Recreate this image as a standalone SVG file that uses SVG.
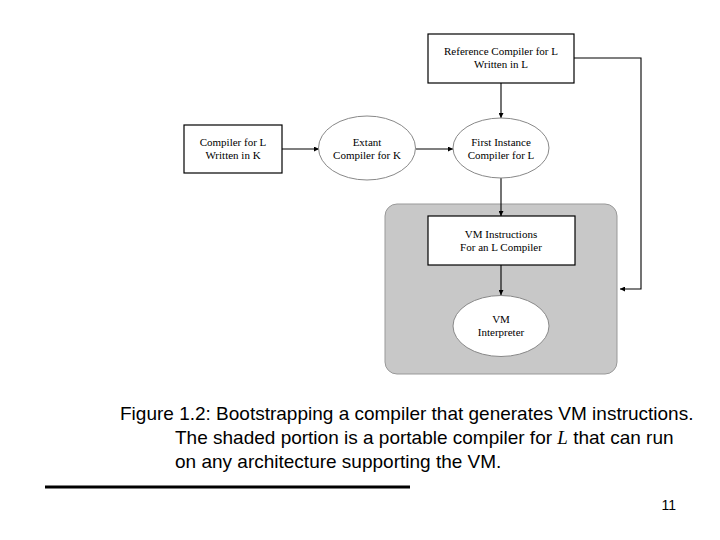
<svg xmlns="http://www.w3.org/2000/svg" width="720" height="540" viewBox="0 0 720 540">
<defs>
<marker id="ah" viewBox="0 0 10 10" refX="10" refY="5" markerWidth="7" markerHeight="5" orient="auto" markerUnits="userSpaceOnUse"><path d="M0,0 L10,5 L0,10 z" fill="#000"/></marker>
<style>
.n{font-family:"Liberation Serif","Times New Roman",serif;font-size:11px;fill:#000;text-anchor:middle}
.box{fill:#fff;stroke:#000;stroke-width:1.2}
.ell{fill:#fff;stroke:#888;stroke-width:1}
.c{fill:none;stroke:#000;stroke-width:1.1}
.cap{font-family:"Liberation Sans",Arial,sans-serif;font-size:19px;fill:#000}
</style>
</defs>
<rect width="720" height="540" fill="#fff"/>
<g id="shaded"><rect x="385" y="204" width="232" height="170" rx="12" fill="#c8c8c8" stroke="#999" stroke-width="1"/></g>
<g id="connectors">
<line class="c" x1="282" y1="149" x2="319" y2="149" marker-end="url(#ah)"/>
<line class="c" x1="416" y1="149" x2="453" y2="149" marker-end="url(#ah)"/>
<line class="c" x1="501" y1="83" x2="501" y2="118" marker-end="url(#ah)"/>
<line class="c" x1="501" y1="178" x2="501" y2="216" marker-end="url(#ah)"/>
<line class="c" x1="501" y1="265" x2="501" y2="295" marker-end="url(#ah)"/>
<polyline class="c" points="574,58 641,58 641,289 620,289" marker-end="url(#ah)"/>
</g>
<g id="ref"><rect class="box" x="428" y="34" width="146" height="49"/><text class="n" x="501" y="55">Reference Compiler for L</text><text class="n" x="501" y="68">Written in L</text></g>
<g id="clk"><rect class="box" x="184" y="125" width="98" height="48"/><text class="n" x="233" y="146">Compiler for L</text><text class="n" x="233" y="159">Written in K</text></g>
<g id="extant"><ellipse class="ell" cx="367" cy="148" rx="48.5" ry="32"/><text class="n" x="367" y="146">Extant</text><text class="n" x="367" y="159">Compiler for K</text></g>
<g id="first"><ellipse class="ell" cx="501" cy="148" rx="48" ry="30"/><text class="n" x="501" y="146">First Instance</text><text class="n" x="501" y="159">Compiler for L</text></g>
<g id="vmi"><rect class="box" x="428" y="216" width="147" height="49"/><text class="n" x="501" y="238">VM Instructions</text><text class="n" x="501" y="251">For an L Compiler</text></g>
<g id="interp"><ellipse class="ell" cx="501" cy="326" rx="48" ry="30.5"/><text class="n" x="501" y="323">VM</text><text class="n" x="501" y="336">Interpreter</text></g>
<g id="caption">
<text class="cap" x="120" y="420">Figure 1.2: Bootstrapping a compiler that generates VM instructions.</text>
<text class="cap" x="175" y="444">The shaded portion is a portable compiler for <tspan font-family="Liberation Serif,serif" font-style="italic">L</tspan> that can run</text>
<text class="cap" x="175" y="468">on any architecture supporting the VM.</text>
</g>
<line x1="45" y1="487" x2="410" y2="487" stroke="#000" stroke-width="3"/>
<text x="676" y="510" font-family="Liberation Sans,Arial,sans-serif" font-size="14" text-anchor="end">11</text>
</svg>
